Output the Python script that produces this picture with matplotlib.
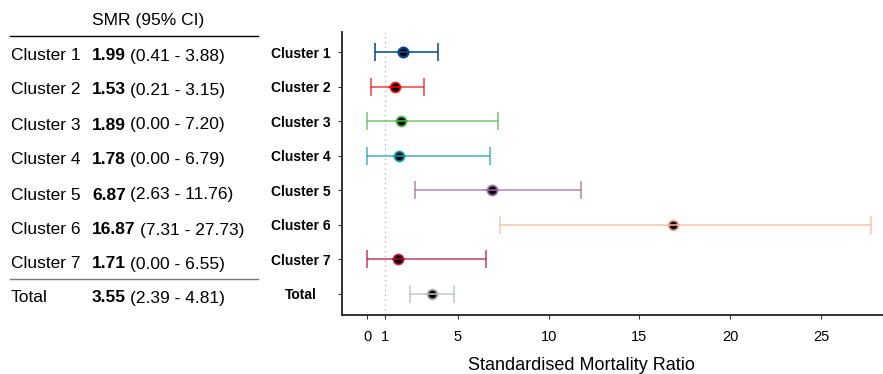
import matplotlib.pyplot as plt
import matplotlib.colors as mcolors

# --- data ---------------------------------------------------------------
labels = ["Cluster 1", "Cluster 2", "Cluster 3", "Cluster 4",
          "Cluster 5", "Cluster 6", "Cluster 7", "Total"]
smr = [1.99, 1.53, 1.89, 1.78, 6.87, 16.87, 1.71, 3.55]
lower = [0.41, 0.21, 0.00, 0.00, 2.63, 7.31, 0.00, 2.39]
upper = [3.88, 3.15, 7.20, 6.79, 11.76, 27.73, 6.55, 4.81]
colors = ["#00468B", "#ED0000", "#42B540", "#0099B4",
          "#925E9F", "#FDAF91", "#AD002A", "#ADB6B6"]
xticks = [0, 1, 5, 10, 15, 20, 25]

W, H = 883, 374
fig = plt.figure(figsize=(W / 100, H / 100), dpi=100)

# --- forest plot --------------------------------------------------------
ax = fig.add_axes([342 / W, 1 - 315 / H, 541 / W, 283 / H])
n = len(labels)
ypos = [n - i for i in range(n)]

ax.axvline(1, color="#bbbbbb", ls=(0, (1, 2.5)), lw=1.0, zorder=1)
for y, m, lo, hi, c in zip(ypos, smr, lower, upper, colors):
    lc = mcolors.to_rgba(c, 1.0 if c == "#00468B" else 0.75)
    ax.errorbar([m], [y], xerr=[[m - lo], [hi - m]], fmt="none",
                ecolor=lc, elinewidth=1.1, capsize=6.5, capthick=1.1, zorder=3)
    ax.plot([m], [y], "o", ms=7, mfc="black", mec=lc, mew=1.6, zorder=2)
    ax.plot([m - 0.3, m + 0.3], [y, y], color=lc, lw=1.1, zorder=4)

ax.set_xlim(-1.38, 28.41)
ax.set_ylim(0.39, 8.58)
ax.set_yticks(ypos)
ax.set_yticklabels(labels, fontfamily="Liberation Sans", fontweight="bold",
                   fontsize=10, ha="center")
ax.tick_params(axis="y", pad=26.5, length=3, width=0.8, colors="#333333",
               labelcolor="black")
ax.set_xticks(xticks)
ax.set_xticklabels([str(t) for t in xticks], fontfamily="Liberation Sans",
                   fontsize=10.5)
ax.tick_params(axis="x", pad=8, length=3, width=0.8, colors="#333333",
               labelcolor="black")
ax.spines["top"].set_visible(False)
ax.spines["right"].set_visible(False)
for s in ("left", "bottom"):
    ax.spines[s].set_linewidth(1.3)
    ax.spines[s].set_color("#222222")
ax.set_xlabel("Standardised Mortality Ratio", fontfamily="Liberation Sans",
              fontsize=13, va="center")
ax.xaxis.set_label_coords(0.442, -50 / 283)

# --- table --------------------------------------------------------------
def fy(px):
    return 1 - px / H

fs = 12.5
fig.text(148 / W, fy(20), "SMR (95% CI)", ha="center", va="center",
         fontfamily="Liberation Sans", fontsize=fs)
fig.add_artist(plt.Line2D([10 / W, 258 / W], [fy(36), fy(36)],
                          color="black", lw=1.0))
fig.add_artist(plt.Line2D([10 / W, 258 / W], [fy(279), fy(279)],
                          color="#777777", lw=1.0))

renderer = fig.canvas.get_renderer()
row_px = [56, 90, 125, 160, 195, 230, 264, 298]
for lab, m, lo, hi, yp in zip(labels, smr, lower, upper, row_px):
    fig.text(11 / W, fy(yp), lab, ha="left", va="center",
             fontfamily="Liberation Sans", fontsize=fs)
    t = fig.text(92 / W, fy(yp), f"{m:.2f}", ha="left", va="center",
                 fontfamily="Liberation Sans", fontsize=fs, fontweight="bold")
    bb = t.get_window_extent(renderer)
    fig.text((bb.x1 + 4) / W, fy(yp), f"({lo:.2f} - {hi:.2f})",
             ha="left", va="center", fontfamily="Liberation Sans", fontsize=fs)

fig.savefig("out.png", dpi=100, facecolor="white")
